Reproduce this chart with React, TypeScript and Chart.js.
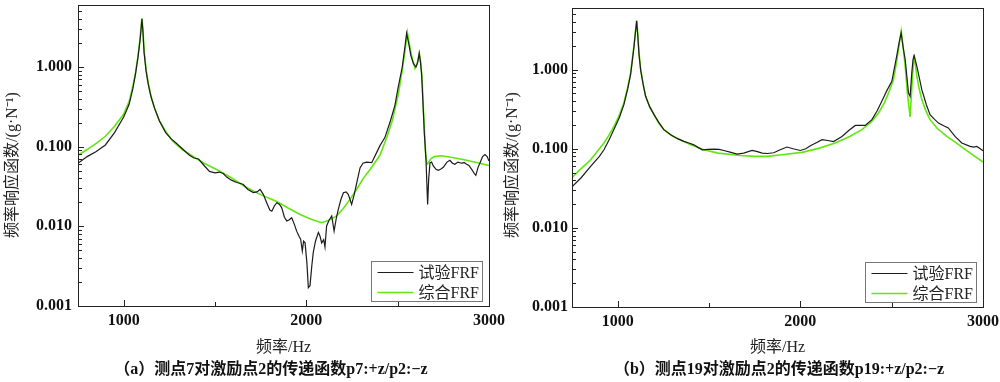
import React, { useEffect, useRef } from 'react';
import { Chart, registerables } from 'chart.js';

Chart.register(...registerables);

const SERIF = "'Liberation Serif', 'Times New Roman', 'Noto Sans CJK SC', serif";

// ---------- text ----------
const legendLabels = ['试验FRF', '综合FRF'];
const yTitle = '频率响应函数/(g·N⁻¹)';
const xTitle = '频率/Hz';
const captionA = '（a）测点7对激励点2的传递函数p7:+z/p2:−z';
const captionB = '（b）测点19对激励点2的传递函数p19:+z/p2:−z';

// ---------- ticks ----------
const xMajorTicks = [1000, 2000, 3000];
const xMinorTicks = [1500, 2500];
const yDecadeTicks = [0.001, 0.01, 0.1, 1];
const yTickLabels = ['0.001', '0.010', '0.100', '1.000'];
const xMin = 750;
const xMax = 3000;
const yMin = 0.001;
const yMax = 6;

// ---------- panel (a): measuring point 7 ----------
const aExpFreq = [750, 800, 850, 900, 950, 1000, 1030, 1050, 1065, 1078, 1090, 1100, 1105, 1112, 1123, 1135, 1150, 1170, 1196, 1230, 1260, 1287, 1320, 1360, 1385, 1410, 1440, 1470, 1500, 1524, 1545, 1564, 1590, 1619, 1640, 1655, 1680, 1710, 1730, 1747, 1765, 1783, 1800, 1811, 1825, 1838, 1852, 1865, 1880, 1893, 1905, 1920, 1935, 1947, 1960, 1969, 1978, 1985, 1993, 2003, 2011, 2020, 2030, 2038, 2050, 2066, 2075, 2084, 2095, 2102, 2111, 2125, 2139, 2152, 2165, 2175, 2190, 2203, 2218, 2230, 2248, 2262, 2276, 2294, 2310, 2330, 2358, 2380, 2403, 2430, 2460, 2485, 2503, 2525, 2540, 2549, 2560, 2572, 2586, 2600, 2610, 2618, 2624, 2631, 2640, 2646, 2655, 2664, 2670, 2677, 2686, 2695, 2710, 2722, 2735, 2750, 2770, 2786, 2800, 2813, 2830, 2850, 2865, 2877, 2890, 2905, 2920, 2928, 2940, 2950, 2965, 2978, 2990, 3000];
const aExpVal = [0.062, 0.075, 0.087, 0.105, 0.15, 0.235, 0.34, 0.53, 0.82, 1.3, 2.2, 4.0, 2.9, 1.5, 0.88, 0.6, 0.42, 0.3, 0.21, 0.15, 0.125, 0.111, 0.095, 0.078, 0.072, 0.07, 0.058, 0.049, 0.047, 0.048, 0.046, 0.0415, 0.038, 0.0355, 0.0345, 0.0335, 0.029, 0.0265, 0.027, 0.029, 0.025, 0.0198, 0.016, 0.0155, 0.018, 0.0198, 0.019, 0.0172, 0.013, 0.0117, 0.012, 0.0128, 0.0105, 0.0087, 0.0075, 0.0069, 0.0049, 0.0065, 0.0062, 0.0035, 0.0017, 0.0018, 0.0032, 0.0047, 0.0065, 0.0084, 0.0075, 0.0062, 0.0068, 0.0055, 0.0101, 0.012, 0.0135, 0.0087, 0.013, 0.0163, 0.022, 0.0264, 0.027, 0.0251, 0.0188, 0.025, 0.0352, 0.054, 0.062, 0.064, 0.063, 0.08, 0.103, 0.13, 0.21, 0.33, 0.56, 1.0, 1.8, 2.65, 2.0, 1.4, 1.11, 1.0, 1.15, 1.48, 1.2, 0.83, 0.3, 0.148, 0.0688, 0.0188, 0.04, 0.0625, 0.064, 0.0574, 0.052, 0.0506, 0.052, 0.055, 0.064, 0.0675, 0.062, 0.06, 0.064, 0.062, 0.063, 0.06, 0.058, 0.052, 0.046, 0.0437, 0.055, 0.062, 0.075, 0.0794, 0.075, 0.066];

const aSynFreq = [750, 800, 850, 900, 950, 1000, 1030, 1050, 1065, 1078, 1090, 1100, 1105, 1112, 1123, 1135, 1150, 1170, 1196, 1230, 1269, 1320, 1378, 1440, 1506, 1580, 1670, 1750, 1838, 1900, 1966, 2030, 2084, 2120, 2166, 2200, 2239, 2275, 2312, 2350, 2403, 2440, 2470, 2503, 2525, 2540, 2553, 2563, 2577, 2595, 2607, 2618, 2627, 2635, 2640, 2647, 2653, 2660, 2667, 2680, 2700, 2740, 2800, 2877, 2950, 3000];
const aSynVal = [0.078, 0.092, 0.11, 0.135, 0.18, 0.255, 0.37, 0.57, 0.85, 1.35, 2.3, 4.1, 3.0, 1.6, 0.92, 0.62, 0.43, 0.3, 0.21, 0.155, 0.117, 0.092, 0.0757, 0.062, 0.052, 0.042, 0.031, 0.025, 0.0205, 0.017, 0.0141, 0.0122, 0.0111, 0.0118, 0.0135, 0.0165, 0.0218, 0.029, 0.04, 0.052, 0.078, 0.13, 0.21, 0.45, 0.9, 1.6, 2.7, 2.0, 1.35, 0.96, 1.1, 1.48, 1.1, 0.6, 0.32, 0.15, 0.083, 0.06, 0.062, 0.07, 0.075, 0.077, 0.073, 0.0675, 0.062, 0.058];

// ---------- panel (b): measuring point 19 ----------
const bExpFreq = [750, 800, 852, 900, 925, 950, 980, 1010, 1034, 1055, 1071, 1089, 1097, 1104, 1110, 1117, 1126, 1140, 1153, 1175, 1199, 1225, 1253, 1290, 1330, 1362, 1390, 1417, 1440, 1463, 1495, 1526, 1555, 1581, 1620, 1654, 1690, 1736, 1765, 1791, 1820, 1854, 1890, 1927, 1960, 2000, 2030, 2055, 2090, 2119, 2150, 2182, 2228, 2265, 2301, 2330, 2355, 2392, 2420, 2446, 2475, 2501, 2528, 2541, 2552, 2563, 2574, 2592, 2601, 2610, 2617, 2623, 2630, 2638, 2665, 2690, 2710, 2735, 2756, 2785, 2810, 2847, 2884, 2929, 2950, 2966, 2985, 3000];
const bExpVal = [0.033, 0.043, 0.0597, 0.08, 0.097, 0.125, 0.176, 0.25, 0.36, 0.57, 0.87, 1.9, 2.9, 4.1, 2.7, 1.55, 0.98, 0.64, 0.46, 0.34, 0.27, 0.215, 0.174, 0.15, 0.133, 0.124, 0.118, 0.112, 0.104, 0.097, 0.098, 0.099, 0.098, 0.095, 0.09, 0.0855, 0.088, 0.095, 0.092, 0.088, 0.087, 0.089, 0.097, 0.105, 0.1, 0.095, 0.1, 0.109, 0.12, 0.13, 0.127, 0.123, 0.143, 0.17, 0.197, 0.198, 0.197, 0.233, 0.3, 0.397, 0.55, 0.71, 1.5, 2.2, 2.9, 1.9, 1.34, 0.507, 0.459, 0.9, 1.35, 1.5, 1.3, 1.1, 0.558, 0.36, 0.27, 0.235, 0.211, 0.195, 0.183, 0.143, 0.118, 0.107, 0.105, 0.107, 0.1, 0.094];

const bSynFreq = [750, 800, 852, 900, 925, 950, 980, 1010, 1034, 1055, 1071, 1089, 1097, 1104, 1110, 1117, 1126, 1140, 1153, 1175, 1199, 1225, 1253, 1300, 1344, 1400, 1472, 1550, 1672, 1750, 1818, 1900, 2009, 2100, 2191, 2270, 2337, 2390, 2428, 2460, 2483, 2510, 2528, 2540, 2552, 2563, 2574, 2586, 2601, 2614, 2623, 2630, 2638, 2650, 2665, 2685, 2710, 2750, 2802, 2850, 2892, 2950, 3000];
const bSynVal = [0.043, 0.056, 0.0726, 0.1, 0.118, 0.145, 0.191, 0.27, 0.379, 0.6, 0.908, 1.97, 3.0, 4.2, 2.8, 1.6, 1.0, 0.65, 0.459, 0.34, 0.27, 0.21, 0.174, 0.145, 0.13, 0.112, 0.097, 0.088, 0.082, 0.08, 0.08, 0.084, 0.09, 0.101, 0.118, 0.143, 0.174, 0.22, 0.283, 0.38, 0.507, 0.75, 1.3, 2.0, 3.06, 1.9, 1.1, 0.507, 0.252, 0.823, 1.55, 1.15, 0.823, 0.58, 0.417, 0.31, 0.233, 0.18, 0.143, 0.12, 0.102, 0.082, 0.068];

type Geo = {
  width: number; left: number; right: number; top: number; bottom: number;
  yPad: number; captionX: number; caption: string;
};

function toPoints(fs: number[], vs: number[]) {
  return fs.map((f, i) => ({ x: f, y: vs[i] }));
}

function makeChart(canvas: HTMLCanvasElement, geo: Geo, ef: number[], ev: number[], sf: number[], sv: number[]) {
  const H = 382;
  const bottomPad = 25;
  const decor = {
    id: 'decor',
    afterDatasetsDraw(chart: any) {
      const ctx = chart.ctx as CanvasRenderingContext2D;
      const a = chart.chartArea;
      const xs = chart.scales.x;
      const ys = chart.scales.y;
      ctx.save();
      ctx.strokeStyle = '#222';
      ctx.lineWidth = 1;
      ctx.strokeRect(Math.round(a.left) + 0.5, Math.round(a.top) + 0.5, Math.round(a.right - a.left), Math.round(a.bottom - a.top));
      ctx.beginPath();
      // y ticks (inward)
      for (const d of yDecadeTicks) {
        for (let m = 1; m <= 9; m++) {
          const v = m * d;
          if (v > yMax) break;
          const py = Math.round(ys.getPixelForValue(v)) + 0.5;
          const len = m === 1 ? 6 : 4;
          ctx.moveTo(a.left, py);
          ctx.lineTo(a.left + len, py);
        }
      }
      for (const v of xMajorTicks) {
        const px = Math.round(xs.getPixelForValue(v)) + 0.5;
        ctx.moveTo(px, a.bottom);
        ctx.lineTo(px, a.bottom - 6);
      }
      for (const v of xMinorTicks) {
        const px = Math.round(xs.getPixelForValue(v)) + 0.5;
        ctx.moveTo(px, a.bottom);
        ctx.lineTo(px, a.bottom - 4);
      }
      ctx.stroke();

      // legend box
      const bw = 111, bh = 40;
      const bx = Math.round(a.right - 7 - bw) + 0.5;
      const by = Math.round(a.bottom - 5 - bh) + 0.5;
      ctx.fillStyle = '#fff';
      ctx.fillRect(bx, by, bw, bh);
      ctx.strokeStyle = '#777';
      ctx.strokeRect(bx, by, bw, bh);
      chart.data.datasets.forEach((ds: any, i: number) => {
        const ly = by + 11 + i * 20;
        ctx.strokeStyle = ds.borderColor;
        ctx.lineWidth = ds.borderWidth;
        ctx.beginPath();
        ctx.moveTo(bx + 6, ly);
        ctx.lineTo(bx + 42, ly);
        ctx.stroke();
        ctx.fillStyle = '#222';
        ctx.font = `16px ${SERIF}`;
        ctx.textAlign = 'left';
        ctx.textBaseline = 'middle';
        ctx.fillText(ds.label, bx + 47, ly + 1);
      });

      // y title
      ctx.save();
      ctx.translate(13, 165);
      ctx.rotate(-Math.PI / 2);
      ctx.fillStyle = '#222';
      ctx.font = `16px ${SERIF}`;
      ctx.textAlign = 'center';
      ctx.textBaseline = 'middle';
      ctx.fillText(yTitle, 0, 0);
      ctx.restore();

      // caption
      ctx.fillStyle = '#111';
      ctx.font = `bold 16px ${SERIF}`;
      ctx.textAlign = 'center';
      ctx.textBaseline = 'middle';
      ctx.fillText(geo.caption, geo.captionX, 370);
      ctx.restore();
    },
  };

  return new Chart(canvas, {
    type: 'line',
    data: {
      datasets: [
        { label: legendLabels[0], data: toPoints(ef, ev), borderColor: '#1c1c1c', borderWidth: 1.2, pointRadius: 0, tension: 0, fill: false },
        { label: legendLabels[1], data: toPoints(sf, sv), borderColor: '#62e610', borderWidth: 1.6, pointRadius: 0, tension: 0, fill: false },
      ],
    },
    options: {
      responsive: false,
      animation: false,
      devicePixelRatio: 1,
      events: [],
      layout: { padding: { left: 0, right: geo.width - geo.right, top: geo.top, bottom: bottomPad } },
      plugins: { legend: { display: false }, title: { display: false }, tooltip: { enabled: false } },
      scales: {
        x: {
          type: 'linear', min: xMin, max: xMax,
          grid: { display: false, drawTicks: false },
          border: { display: false },
          afterBuildTicks: (s: any) => { s.ticks = xMajorTicks.map((v) => ({ value: v })); },
          afterFit: (s: any) => { s.height = H - bottomPad - geo.bottom; s.paddingLeft = 0; s.paddingRight = 0; },
          ticks: { font: { family: SERIF, size: 16, weight: 'bold' }, color: '#111', padding: 5, maxRotation: 0, autoSkip: false, callback: (v: any) => String(v) },
          title: { display: true, text: xTitle, font: { family: SERIF, size: 16 }, color: '#222', padding: { top: 0, bottom: 0 } },
        },
        y: {
          type: 'logarithmic', min: yMin, max: yMax,
          grid: { display: false, drawTicks: false },
          border: { display: false },
          afterBuildTicks: (s: any) => { s.ticks = yDecadeTicks.map((v) => ({ value: v })); },
          afterFit: (s: any) => { s.width = geo.left; s.paddingTop = 0; s.paddingBottom = 0; },
          ticks: { font: { family: SERIF, size: 16, weight: 'bold' }, color: '#111', padding: geo.yPad, autoSkip: false, callback: (_v: any, i: number) => yTickLabels[i] },
        },
      },
    },
    plugins: [decor],
  } as any);
}

export default function App() {
  const refA = useRef<HTMLCanvasElement>(null);
  const refB = useRef<HTMLCanvasElement>(null);
  useEffect(() => {
    const ca = makeChart(refA.current!, { width: 520, left: 78, right: 489, top: 5, bottom: 306, yPad: 6, captionX: 271, caption: captionA }, aExpFreq, aExpVal, aSynFreq, aSynVal);
    const cb = makeChart(refB.current!, { width: 500, left: 72, right: 483, top: 8, bottom: 307, yPad: 4, captionX: 279, caption: captionB }, bExpFreq, bExpVal, bSynFreq, bSynVal);
    return () => { ca.destroy(); cb.destroy(); };
  }, []);
  return (
    <div style={{ position: 'absolute', left: 0, top: 0, width: 1000, height: 382, background: '#fff', overflow: 'hidden' }}>
      <canvas ref={refA} width={520} height={382} style={{ position: 'absolute', left: 0, top: 0, width: 520, height: 382 }} />
      <canvas ref={refB} width={500} height={382} style={{ position: 'absolute', left: 500, top: 0, width: 500, height: 382 }} />
    </div>
  );
}
